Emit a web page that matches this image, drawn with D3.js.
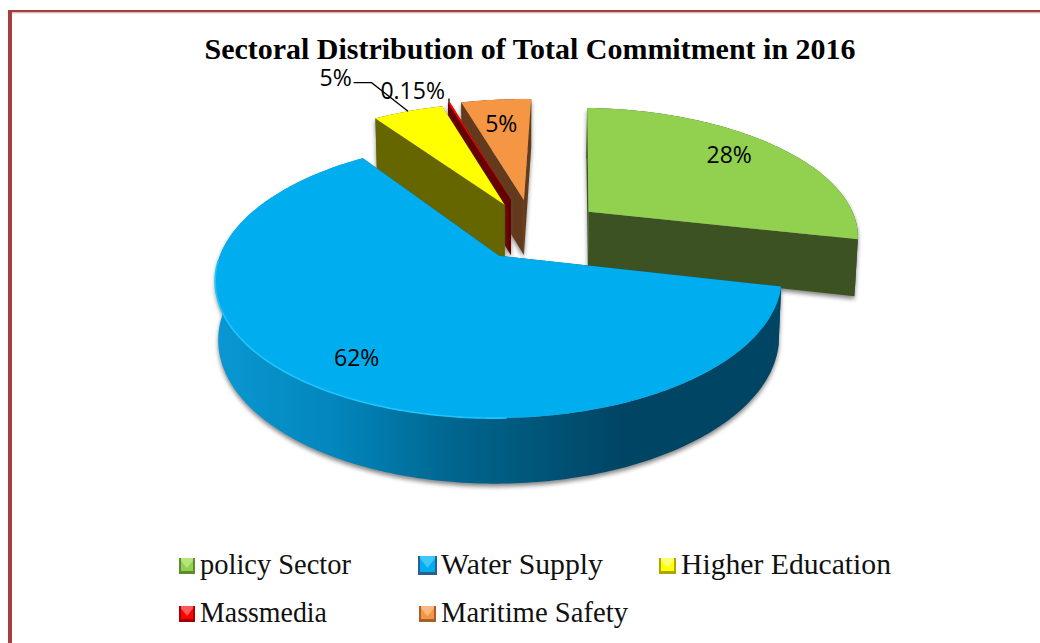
<!DOCTYPE html>
<html>
<head>
<meta charset="utf-8">
<title>Sectoral Distribution of Total Commitment in 2016</title>
<script src="https://cdnjs.cloudflare.com/ajax/libs/d3/7.8.5/d3.min.js"></script>
<style>
  html, body { margin: 0; padding: 0; background: #fff; }
  svg { display: block; }
</style>
</head>
<body>
<svg id="chart" width="1040" height="643"></svg>
<script>
// Sector shares, in the order the pie runs clockwise from the top
const categories = ["policy Sector", "Water Supply", "Higher Education", "Massmedia", "Maritime Safety"];
const shares = [28, 62, 5, 0.15, 5];
const shareLabels = ["28%", "62%", "5%", "0.15%", "5%"];

// Colours of the slice tops and their side walls
const topColors = ["#92d050", "#00aeef", "#ffff00", "#ff0000", "#f59645"];
const wallColors = ["#3d5223", "#00577c", "#666600", "#660000", "#633b1c"];
const bevelLight = ["#b5e67d", "#3cc8f8", "#ffff70", "#ff5a5a", "#fbb77c"];
const bevelDark = ["#5f8a2e", "#2c5d8f", "#a8a800", "#a80000", "#a8602a"];

// How far each slice is pulled out of the pie, on the ground plane
const explodeX = [0.26, -0.075, -0.059, -0.035, 0.015];
const explodeZ = [-0.21, 0.135, -0.27, -0.31, -0.31];

// Fine placement of the percentage labels relative to each slice
const labelNudgeX = [26, -38, -108, -59, -5];
const labelNudgeY = [-15, 29, -68, -48, -13];

// Legend layout
const swatchX = [179, 418, 659, 179, 419];
const swatchY = [558, 556, 558, 606, 606];
const swatchW = [16, 19, 17, 16, 17];
const swatchH = [16, 19, 16, 16, 16];
const legendTextX = [200, 441, 681, 200, 441];
const legendTextY = [574, 574, 574, 622, 622];
const legendTextW = [151, 162, 210, 127, 187];

// Perspective camera for the tilted pie
const view = { cx: 520, cy: 238, rx: 273, rz: 129, persp: 0.165, depth: 57, shrink: 0.01 };
const toRad = Math.PI / 180;

const svg = d3.select("#chart");
const defs = svg.append("defs");

defs.append("filter").attr("id", "softShadow")
    .attr("x", "-20%").attr("y", "-20%").attr("width", "140%").attr("height", "140%")
  .append("feGaussianBlur").attr("stdDeviation", 2);

// The round wall of the large slice darkens from left to right
const wallGrad = defs.append("linearGradient").attr("id", "waterWall")
    .attr("gradientUnits", "userSpaceOnUse")
    .attr("x1", 215).attr("x2", 780).attr("y1", 0).attr("y2", 0);
[[0, "#0a98d2"], [0.22, "#0285bb"], [0.42, "#00668f"], [0.55, "#00587c"], [0.72, "#004564"], [1, "#004563"]]
  .forEach(([o, c]) => wallGrad.append("stop").attr("offset", o).attr("stop-color", c));

// Slice angles from d3.pie; 0 is twelve o'clock, running clockwise
const arcs = d3.pie().sort(null).startAngle(2 * toRad).endAngle((360 + 2) * toRad)(shares);

// Ground-plane point (radius r along angle a, in the slice's own exploded frame) to screen
function project(i, a, r, h) {
  const x = r * Math.sin(a) + explodeX[i];
  const z = -r * Math.cos(a) + explodeZ[i];
  const w = 1 - view.persp * z;
  const s = 1 - view.shrink * h;
  return [
    view.cx + view.rx * x / w * s,
    view.cy + view.rz * z / w * s + h * view.depth * Math.pow(1 / w, 0.8)
  ];
}

const outline = d3.line().curve(d3.curveLinear);

function arcPoints(i, a0, a1, h) {
  const n = Math.max(2, Math.ceil(Math.abs(a1 - a0) / (1 * toRad)));
  return d3.range(n + 1).map(k => project(i, a0 + (a1 - a0) * k / n, 1, h));
}

function topFace(i) {
  const d = arcs[i];
  return outline([project(i, 0, 0, 0), ...arcPoints(i, d.startAngle, d.endAngle, 0)]) + "Z";
}
function radialWall(i, a) {
  return outline([project(i, a, 0, 0), project(i, a, 1, 0), project(i, a, 1, 1), project(i, a, 0, 1)]) + "Z";
}
function roundWall(i) {
  const d = arcs[i];
  return outline([...arcPoints(i, d.startAngle, d.endAngle, 0),
                  ...arcPoints(i, d.endAngle, d.startAngle, 1)]) + "Z";
}

// Page frame: a rule along the top and the left edge only
const frameColor = "#a33f3c";
svg.append("rect").attr("x", 8).attr("y", 10).attr("width", 1032).attr("height", 2.5).attr("fill", frameColor);
svg.append("rect").attr("x", 8).attr("y", 10).attr("width", 4).attr("height", 633).attr("fill", frameColor);
svg.append("rect").attr("x", 12).attr("y", 12.5).attr("width", 1028).attr("height", 1).attr("fill", "#e8cfce");

svg.append("text")
    .attr("x", 530).attr("y", 59)
    .attr("text-anchor", "middle")
    .attr("font-family", "'Liberation Serif', serif")
    .attr("font-weight", "bold")
    .attr("font-size", 29.5)
    .attr("textLength", 651)
    .attr("lengthAdjust", "spacingAndGlyphs")
    .attr("fill", "#000")
    .text("Sectoral Distribution of Total Commitment in 2016");

// Painted from the far side of the pie to the near side
const paintOrder = [4, 3, 2, 0, 1];
const pie = svg.append("g");

paintOrder.forEach(i => {
  const d = arcs[i];
  const wallPaths = [radialWall(i, d.startAngle), radialWall(i, d.endAngle), roundWall(i)];
  const slice = pie.append("g").attr("class", "slice");

  slice.append("g")
      .attr("transform", "translate(0,3)")
      .attr("filter", "url(#softShadow)")
      .attr("opacity", 0.7)
    .selectAll("path").data([...wallPaths, topFace(i)]).join("path")
      .attr("d", p => p).attr("fill", "#555");

  slice.append("path").attr("d", wallPaths[0]).attr("fill", wallColors[i]);
  slice.append("path").attr("d", wallPaths[1]).attr("fill", wallColors[i]);
  slice.append("path").attr("d", wallPaths[2])
      .attr("fill", i === 1 ? "url(#waterWall)" : wallColors[i]);
  slice.append("path").attr("d", topFace(i)).attr("fill", topColors[i]);
});

// Bright lip along the near rim of the large slice
pie.append("path")
    .attr("d", outline(arcPoints(1, 178 * toRad, 268 * toRad, 0)))
    .attr("fill", "none").attr("stroke", "#22c4fb").attr("stroke-width", 1.6);

// Percentage labels
const labelAt = arcs.map((d, i) => {
  const p = project(i, (d.startAngle + d.endAngle) / 2, 0.6, 0);
  return [p[0] + labelNudgeX[i], p[1] + labelNudgeY[i]];
});

// Leader lines for the two labels that sit outside their slices
const rim = i => project(i, (arcs[i].startAngle + arcs[i].endAngle) / 2, 1, 0);
const leader = d3.line();
pie.append("path")
    .attr("d", leader([
      [labelAt[2][0] + 18, labelAt[2][1] + 5],
      [labelAt[2][0] + 36, labelAt[2][1] + 5],
      rim(2)
    ]))
    .attr("fill", "none").attr("stroke", "#000").attr("stroke-width", 1.3);
pie.append("path")
    .attr("d", leader([[rim(3)[0], rim(3)[1] - 4], rim(3)]))
    .attr("fill", "none").attr("stroke", "#000").attr("stroke-width", 1.3);

svg.append("g").selectAll("text").data(shareLabels).join("text")
    .attr("x", (t, i) => labelAt[i][0])
    .attr("y", (t, i) => labelAt[i][1])
    .attr("dy", "0.36em")
    .attr("text-anchor", "middle")
    .attr("font-family", "'Open Sans', sans-serif")
    .attr("font-size", 23)
    .attr("fill", "#000")
    .text(t => t);

// Legend with small bevelled swatches
const legend = svg.append("g");
categories.forEach((name, i) => {
  const g = legend.append("g").attr("transform", `translate(${swatchX[i]},${swatchY[i]})`);
  const w = swatchW[i], h = swatchH[i], b = 2;
  const poly = (pts, fill) => g.append("path").attr("d", outline(pts) + "Z").attr("fill", fill);
  poly([[0, 0], [w, 0], [w, h], [0, h]], topColors[i]);
  poly([[0, 0], [w, 0], [w / 2, h * 0.62]], bevelLight[i]);
  poly([[0, h - b - 1], [w, h - b - 1], [w, h], [0, h]], bevelDark[i]);
  poly([[0, 0], [b, 0], [b, h], [0, h]], bevelDark[i]);
  poly([[w - b, 0], [w, 0], [w, h], [w - b, h]], bevelDark[i]);
  legend.append("text")
      .attr("x", legendTextX[i]).attr("y", legendTextY[i])
      .attr("font-family", "'Liberation Serif', serif")
      .attr("font-size", 28.5)
      .attr("textLength", legendTextW[i])
      .attr("lengthAdjust", "spacingAndGlyphs")
      .attr("fill", "#111")
      .text(name);
});
</script>
</body>
</html>
